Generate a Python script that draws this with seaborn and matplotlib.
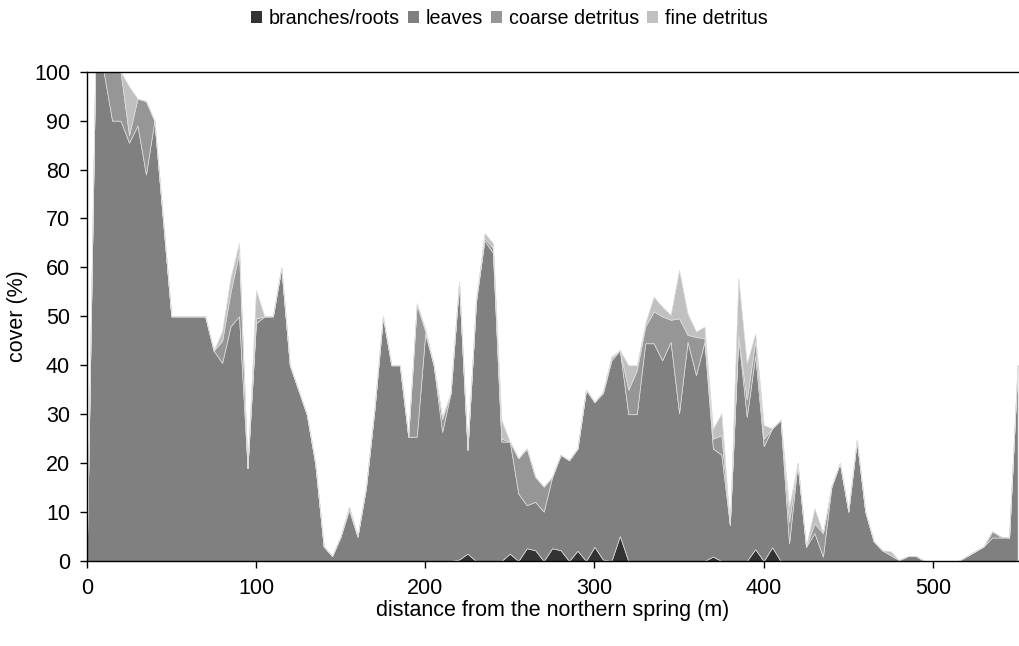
import numpy as np
import pandas as pd
import seaborn as sns
import matplotlib
matplotlib.use("Agg")
import matplotlib.pyplot as plt
from matplotlib.patches import Patch

# Transect positions (m), one sample every 5 m
distance = list(range(0, 555, 5))

# Cover (%) of each litter type along the transect
branches_roots = [
    0, 0, 0, 0, 0, 0, 0, 0, 0, 0,        # 0-45
    0, 0, 0, 0, 0, 0, 0, 0, 0, 0,        # 50-95
    0, 0, 0, 0, 0, 0, 0, 0, 0, 0,        # 100-145
    0, 0, 0, 0, 0, 0, 0, 0, 0, 0,        # 150-195
    0, 0, 0, 0, 0.3, 1.5, 0, 0, 0, 0,    # 200-245
    1.5, 0, 2.6, 2.2, 0, 2.6, 2.2, 0, 2.1, 0,   # 250-295
    2.9, 0.3, 0, 5.1, 0, 0, 0, 0, 0, 0,  # 300-345
    0, 0, 0, 0, 0.9, 0, 0, 0, 0, 2.4,    # 350-395
    0, 2.8, 0, 0, 0, 0, 0, 0, 0, 0,      # 400-445
    0, 0, 0, 0, 0, 0, 0, 0, 0, 0,        # 450-495
    0, 0, 0, 0, 0, 0, 0, 0, 0, 0,        # 500-545
    0,                                   # 550
]
leaves = [
    0, 100, 100, 90, 90, 85.5, 89, 79, 90, 70,
    50, 50, 50, 50, 50, 43, 40.5, 48, 50, 19,
    48.6, 50, 50, 60, 40, 35, 30, 20, 3, 1,
    5, 10.4, 5, 15, 31, 50, 40, 40, 25.4, 25.4,
    46.5, 40, 26.4, 34.3, 56.7, 21.2, 53, 65.5, 63, 24.4,
    22.9, 13.8, 8.8, 9.9, 10.1, 14.6, 19.5, 20.6, 20.9, 35,
    29.6, 34, 41, 38, 30, 30, 44.5, 44.5, 41, 44.8,
    30.2, 44.8, 38, 44.8, 22.1, 21.7, 7.4, 45.8, 29.5, 39.6,
    23.5, 24.3, 28.8, 3.6, 20, 2.9, 5.7, 0.9, 15.2, 20,
    10.1, 24.7, 10.1, 4, 2.2, 1.2, 0.2, 1, 1, 0,
    0, 0, 0, 0, 1, 2, 3, 4.8, 4.8, 4.8,
    40,
]
coarse_detritus = [
    0, 0, 0, 10, 10, 1.5, 5.5, 15, 0, 0,
    0, 0, 0, 0, 0, 0, 4.5, 7, 13, 0,
    1, 0, 0, 0, 0, 0, 0, 0, 0, 0,
    0, 0.7, 0, 0, 0, 0, 0, 0, 0, 27.1,
    0.5, 0, 2.6, 0, 0, 0, 0, 0.5, 1, 0.6,
    0, 7.2, 11.6, 5.1, 5.1, 0, 0, 0, 0, 0,
    0, 0.3, 0.5, 0, 5, 9, 3.4, 6.5, 9, 4.5,
    19.4, 1.4, 7.8, 0.7, 2, 4, 0, 0.2, 3.5, 3,
    1.5, 0, 0, 4.4, 0, 0, 2, 4.8, 0, 0,
    0, 0, 0, 0, 0, 0, 0, 0, 0, 0,
    0, 0, 0, 0, 0, 0, 0, 1.3, 0.2, 0,
    0,
]
fine_detritus = [
    0, 0, 0, 0, 0, 10, 0, 0, 0, 0,
    0, 0, 0, 0, 0, 0, 2, 3, 2, 0,
    5.8, 0, 0, 0, 0, 0, 0, 0, 0, 0,
    0, 0, 0, 0, 0, 0, 0, 0, 0, 0.2,
    0.5, 0, 0.5, 0, 0, 0.3, 0.3, 1, 1, 3.8,
    0, 0, 0, 0, 0, 0, 0, 0, 0, 0,
    0, 0, 0.3, 0, 5, 1, 0.7, 3, 2, 1,
    9.9, 4.4, 1.1, 2.4, 2, 4.5, 0, 11.8, 7.4, 1.5,
    2.8, 0, 0, 3, 0, 0, 3.1, 0, 0, 0,
    0, 0, 0, 0, 0, 0.8, 0, 0, 0, 0,
    0, 0, 0, 0, 0, 0, 0, 0, 0, 0,
    0,
]

categories = ["branches/roots", "leaves", "coarse detritus", "fine detritus"]
colors = ["#333333", "#808080", "#969696", "#c0c0c0"]

df = pd.concat(
    [
        pd.DataFrame({"distance": distance, "cover": vals, "type": name})
        for name, vals in zip(
            categories,
            [branches_roots, leaves, coarse_detritus, fine_detritus],
        )
    ],
    ignore_index=True,
)

sns.set_style("white")
plt.rcParams["font.family"] = ["Liberation Sans", "DejaVu Sans"]

fig = plt.figure(figsize=(10.19, 6.46), dpi=100)
ax = fig.add_axes([0.0851, 0.1316, 0.9135, 0.7574])

# Stacked area: one 5 m bin per sample point, polygons through bin centres.
# histplot puts the first hue level on top, so branches/roots go last.
sns.histplot(
    data=df, x="distance", weights="cover", hue="type",
    hue_order=categories[::-1], palette=dict(zip(categories, colors)),
    binwidth=5, binrange=(-2.5, 552.5), multiple="stack", element="poly",
    fill=True, alpha=1, edgecolor="#dddddd", linewidth=0.5,
    legend=False, ax=ax,
)

ax.set_xlim(0, 550)
ax.set_ylim(0, 100)
ax.set_xticks(range(0, 501, 100))
ax.set_yticks(range(0, 101, 10))
ax.tick_params(axis="both", direction="out", length=5, width=1,
               color="black", labelcolor="black", labelsize=15.5, pad=7,
               bottom=True, left=True)
for side in ["left", "bottom", "top"]:
    ax.spines[side].set_visible(True)
    ax.spines[side].set_color("black")
    ax.spines[side].set_linewidth(1)
ax.spines["right"].set_visible(False)
ax.set_xlabel("distance from the northern spring (m)", fontsize=15.5,
              labelpad=1, color="black")
ax.set_ylabel("cover (%)", fontsize=15.5, labelpad=4, color="black")

handles = [Patch(facecolor=c, edgecolor="none") for c in colors]
fig.legend(handles, categories, loc="center", bbox_to_anchor=(0.5, 0.972),
           ncol=4, frameon=False, fontsize=14.2, handlelength=0.55,
           handleheight=0.55, handletextpad=0.35, columnspacing=0.4,
           borderpad=0, labelcolor="black")

fig.savefig("out.png", dpi=100)
